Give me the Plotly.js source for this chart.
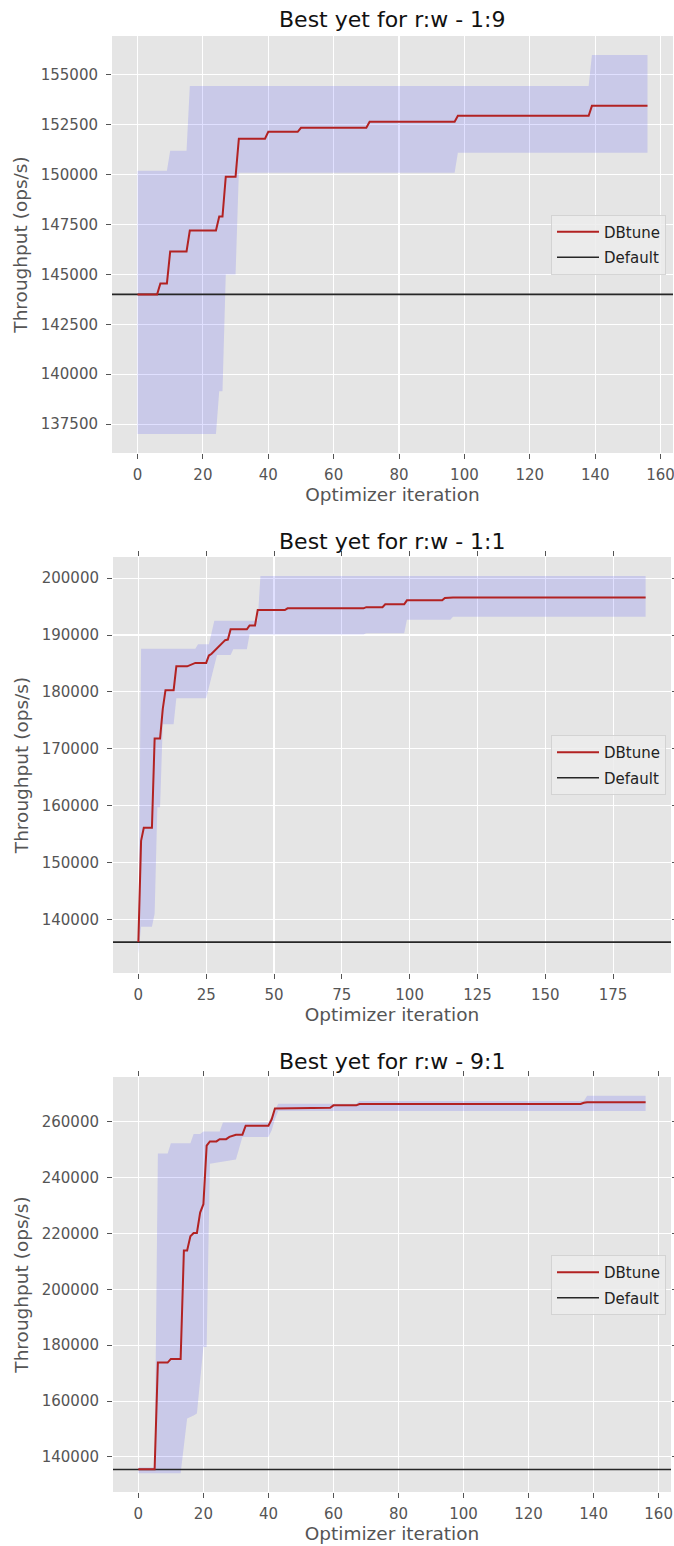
<!DOCTYPE html>
<html><head><meta charset="utf-8">
<script src="https://cdn.plot.ly/plotly-3.0.1.min.js"></script>
<style>html,body{margin:0;padding:0;background:#fff;} #chart{width:674px;height:1546px;}</style>
</head><body><div id="chart"></div>
<script>
// ---------- Panel titles ----------
const panelTitles = ['Best yet for r:w - 1:9', 'Best yet for r:w - 1:1', 'Best yet for r:w - 9:1'];
const seriesNames = ['DBtune', 'Default'];

// ---------- Panel 1 (r:w 1:9) ----------
const p1LineX = [0,6,7,9,10,15,16,24,25,26,27,30,31,39,40,49,50,70,71,97,98,138,139,156];
const p1LineY = [144000,144000,144550,144550,146150,146150,147200,147200,147900,147900,149900,149900,151800,151800,152150,152150,152350,152350,152650,152650,152950,152950,153450,153450];
const p1UpX = [0,9,10,15,16,138,139,156];
const p1UpY = [150200,150200,151200,151200,154450,154450,156000,156000];
const p1LoX = [0,24,25,26,27,30,31,97,98,156];
const p1LoY = [137000,137000,139150,139150,145000,145000,150100,150100,151100,151100];
const p1Default = 144000;

// ---------- Panel 2 (r:w 1:1) ----------
const p2LineX = [0,1,2,5,6,8,9,10,13,14,18,19,21,25,26,27,28,29,30,32,33,34,40,41,43,44,54,55,83,84,90,91,98,99,112,113,116,187];
const p2LineY = [136000,153800,156100,156100,171800,171800,177000,180300,180300,184500,184500,184700,185100,185100,186400,186700,187200,187700,188200,189100,189200,191000,191000,191700,191700,194400,194400,194700,194700,194900,194900,195400,195400,196100,196100,196500,196600,196600];
const p2UpX = [0,1,21,22,26,27,28,44,45,187];
const p2UpY = [137500,187600,187600,188400,188400,190500,192500,192500,200400,200400];
const p2LoX = [0,1,5,6,7,8,9,13,14,25,26,27,28,29,34,35,40,41,83,84,98,99,115,116,187];
const p2LoY = [133900,138700,138700,141000,159700,159700,174300,174300,178900,178900,180700,182500,184500,186500,186500,187500,187500,190100,190100,190300,190300,192700,192700,193200,193200];
const p2Default = 136000;

// ---------- Panel 3 (r:w 9:1) ----------
const p3LineX = [0,5,6,9,10,13,14,15,16,17,18,19,20,21,22,24,25,27,28,30,32,33,40,41,42,55,56,59,60,67,68,136,137,138,156];
const p3LineY = [135600,135600,173800,173800,175100,175100,213900,213900,219000,220200,220200,227500,230500,251500,253000,253000,253800,253800,254600,255400,255400,258600,258600,260900,264800,264800,265000,265000,265900,265900,266400,266400,266800,267000,267000];
const p3UpX = [0,5,6,9,10,16,17,19,20,25,26,40,41,42,43,67,68,137,138,156];
const p3UpY = [136200,136200,248700,248700,252300,252300,255600,255600,256500,256500,259800,259800,262000,264500,266500,266500,267500,267500,269300,269300];
const p3LoX = [0,13,14,15,17,18,19,20,21,22,30,31,32,40,41,42,43,156];
const p3LoY = [134200,134200,144000,153800,154800,155600,167000,179400,179400,245000,246500,250500,254600,254600,257000,261000,263900,263900];
const p3Default = 135500;

// tick settings per panel
const xDticks = [20, 25, 20];
const yDticks = [2500, 10000, 20000];

const panels = [
  {lx:p1LineX, ly:p1LineY, ux:p1UpX, uy:p1UpY, bx:p1LoX, by:p1LoY, d:p1Default},
  {lx:p2LineX, ly:p2LineY, ux:p2UpX, uy:p2UpY, bx:p2LoX, by:p2LoY, d:p2Default},
  {lx:p3LineX, ly:p3LineY, ux:p3UpX, uy:p3UpY, bx:p3LoX, by:p3LoY, d:p3Default}
];

const W = 674, H = 1546;
// plot-area pixel boxes [left, right, top, bottom]
const boxes = [[112,673,36,453],[113,671,557,973],[113,671,1077,1492]];
const titleY = [19, 541, 1061];
const legendCY = [244.5, 765, 1285];

const FONT = 'DejaVu Sans, Liberation Sans, sans-serif';
function pad(arr){ const mn=Math.min(...arr), mx=Math.max(...arr); const p=(mx-mn)*0.05; return [mn-p, mx+p]; }

const traces = [];
const layout = {
  width: W, height: H,
  margin: {l:0, r:0, t:0, b:0},
  paper_bgcolor: '#ffffff',
  plot_bgcolor: '#E5E5E5',
  font: {family: FONT, color: '#555'},
  showlegend: true,
  annotations: [],
};

panels.forEach((p, i) => {
  const n = i === 0 ? '' : String(i+1);
  const xa = 'x' + n, ya = 'y' + n;
  const xr = pad(p.lx.concat(p.ux, p.bx));
  const yr = pad(p.ly.concat(p.uy, p.by, [p.d]));
  const lg = i === 0 ? 'legend' : 'legend' + (i+1);

  // band polygon
  traces.push({
    type:'scatter', mode:'lines', xaxis:xa, yaxis:ya,
    x: p.ux.concat(p.bx.slice().reverse()),
    y: p.uy.concat(p.by.slice().reverse()),
    fill:'toself', fillcolor:'rgba(0,0,255,0.12)', line:{width:0, color:'rgba(0,0,0,0)'},
    showlegend:false, hoverinfo:'skip'
  });
  // default line across full axis
  traces.push({
    type:'scatter', mode:'lines', xaxis:xa, yaxis:ya, legend: lg,
    x: xr, y: [p.d, p.d], name: seriesNames[1], legendgroup: 'def' + i,
    line:{color:'#262626', width:1.6}, legendrank: 2
  });
  // DBtune
  traces.push({
    type:'scatter', mode:'lines', xaxis:xa, yaxis:ya, legend: lg,
    x: p.lx, y: p.ly, name: seriesNames[0], legendgroup: 'db' + i,
    line:{color:'#B22222', width:2}, legendrank: 1
  });

  const b = boxes[i];
  const mirror = i === 0 ? false : 'ticks';
  layout['xaxis' + n] = {
    domain:[b[0]/W, b[1]/W], anchor: ya, range: xr,
    tickmode:'linear', tick0:0, dtick:xDticks[i],
    showgrid:true, gridcolor:'#ffffff', gridwidth:1.1, zeroline:false, showline:false,
    ticks:'outside', ticklen:5, tickwidth:1, tickcolor:'#555', mirror: mirror,
    ticklabelstandoff: 3, ticklabeloverflow: 'allow',
    tickfont:{family:FONT, size:15, color:'#555'},
    title:{text:'Optimizer iteration', font:{family:FONT, size:18.5, color:'#555'}, standoff:2}
  };
  layout['yaxis' + n] = {
    domain:[1 - b[3]/H, 1 - b[2]/H], anchor: xa, range: yr,
    tickmode:'linear', tick0:0, dtick:yDticks[i], tickformat:'d',
    showgrid:true, gridcolor:'#ffffff', gridwidth:1.1, zeroline:false, showline:false,
    ticks:'outside', ticklen:5, tickwidth:1, tickcolor:'#555', mirror: mirror,
    ticklabelstandoff: 5, ticklabeloverflow: 'allow',
    tickfont:{family:FONT, size:15, color:'#555'},
    title:{text:'Throughput (ops/s)', font:{family:FONT, size:18.5, color:'#555'}, standoff:8}
  };
  layout[lg] = {
    x: 666/W, xanchor:'right', y: 1 - legendCY[i]/H, yanchor:'middle',
    bgcolor:'rgba(236,236,236,0.85)', bordercolor:'rgba(208,208,208,0.9)', borderwidth:1,
    font:{family:FONT, size:15, color:'#222'}, itemwidth:42,
    traceorder:'grouped', tracegroupgap:3
  };
  layout.annotations.push({
    xref:'paper', yref:'paper', x:(b[0]+b[1])/2/W, y:1 - titleY[i]/H,
    xanchor:'center', yanchor:'middle', showarrow:false,
    text: panelTitles[i], font:{family:FONT, size:22, color:'#111'}
  });
});

Plotly.newPlot('chart', traces, layout, {staticPlot:true, displayModeBar:false});
</script>
</body></html>
